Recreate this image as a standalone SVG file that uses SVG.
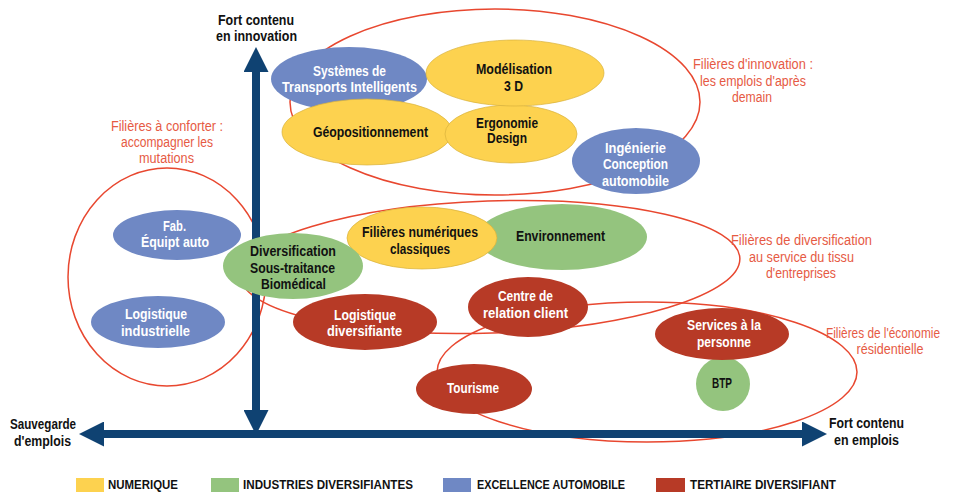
<svg xmlns="http://www.w3.org/2000/svg" width="953" height="492" viewBox="0 0 953 492">
<style>
text{font-family:"Liberation Sans",Arial,sans-serif;font-size:14px;text-anchor:middle}
.b{font-weight:bold}
.w{fill:#ffffff;font-weight:bold}
.k{fill:#111111;font-weight:bold}
.lbl{fill:#e65a44}
.grp{fill:none;stroke:#e8472f;stroke-width:1.5}
.blue{fill:#6f88c4}
.yel{fill:#fdd24f;stroke:#d9b23c;stroke-width:0.7}
.grn{fill:#94c47e}
.red{fill:#b73a26}
.axis{stroke:#0f4272;stroke-width:8;fill:none}
.leg{text-anchor:start;font-weight:bold;fill:#111;font-size:13px}
</style>
<defs>
<marker id="ah" viewBox="0 0 25 25" markerWidth="25" markerHeight="25" refX="0" refY="12.5" orient="auto-start-reverse" markerUnits="userSpaceOnUse">
<path d="M0,0 L25,12.5 L0,25 z" fill="#0f4272"/>
</marker>
</defs>
<rect width="953" height="492" fill="#ffffff"/>

<g id="groups">
<ellipse class="grp" cx="495" cy="102" rx="205" ry="93"/>
<ellipse class="grp" cx="167" cy="277" rx="99" ry="109"/>
<ellipse class="grp" cx="490" cy="267" rx="250" ry="66" transform="rotate(-2 490 267)"/>
<ellipse class="grp" cx="647" cy="372" rx="210" ry="70"/>
<text class="lbl" x="167" y="131" textLength="112" lengthAdjust="spacingAndGlyphs">Filières à conforter :</text>
<text class="lbl" x="167" y="147" textLength="92" lengthAdjust="spacingAndGlyphs">accompagner les</text>
<text class="lbl" x="166.5" y="163" textLength="55" lengthAdjust="spacingAndGlyphs">mutations</text>
<text class="lbl" x="753" y="69" textLength="120" lengthAdjust="spacingAndGlyphs">Filières d'innovation :</text>
<text class="lbl" x="753" y="86" textLength="106" lengthAdjust="spacingAndGlyphs">les emplois d'après</text>
<text class="lbl" x="752" y="102" textLength="40" lengthAdjust="spacingAndGlyphs">demain</text>
<text class="lbl" x="801.5" y="245" textLength="141" lengthAdjust="spacingAndGlyphs">Filières de diversification</text>
<text class="lbl" x="801.5" y="262" textLength="105" lengthAdjust="spacingAndGlyphs">au service du tissu</text>
<text class="lbl" x="801" y="278" textLength="70" lengthAdjust="spacingAndGlyphs">d'entreprises</text>
<text class="lbl" x="883" y="338" font-size="13" textLength="114" lengthAdjust="spacingAndGlyphs">Filières de l'économie</text>
<text class="lbl" x="890" y="354" textLength="67" lengthAdjust="spacingAndGlyphs">résidentielle</text>
</g>

<g id="connectors">
<line class="axis" x1="256" y1="72" x2="256" y2="410" marker-start="url(#ah)" marker-end="url(#ah)"/>
<line class="axis" x1="104" y1="434" x2="802" y2="434" marker-start="url(#ah)" marker-end="url(#ah)"/>
</g>

<g id="axis-labels">
<text class="k" x="256" y="25" textLength="76" lengthAdjust="spacingAndGlyphs">Fort contenu</text>
<text class="k" x="256.5" y="41" textLength="81" lengthAdjust="spacingAndGlyphs">en innovation</text>
<text class="k" x="43" y="429" textLength="66" lengthAdjust="spacingAndGlyphs">Sauvegarde</text>
<text class="k" x="42.5" y="446" textLength="57" lengthAdjust="spacingAndGlyphs">d'emplois</text>
<text class="k" x="866.5" y="428" textLength="75" lengthAdjust="spacingAndGlyphs">Fort contenu</text>
<text class="k" x="866.5" y="445" textLength="65" lengthAdjust="spacingAndGlyphs">en emplois</text>
</g>

<g id="n-systemes">
<ellipse class="blue" cx="349" cy="79" rx="78" ry="32"/>
<text class="w" x="349.5" y="76" textLength="73" lengthAdjust="spacingAndGlyphs">Systèmes de</text>
<text class="w" x="349.5" y="92" textLength="135" lengthAdjust="spacingAndGlyphs">Transports Intelligents</text>
</g>
<g id="n-geo">
<ellipse class="yel" cx="367" cy="132" rx="85" ry="33"/>
<text class="k" x="370.5" y="137" textLength="115" lengthAdjust="spacingAndGlyphs">Géopositionnement</text>
</g>
<g id="n-ergonomie">
<ellipse class="yel" cx="511" cy="134" rx="66" ry="29"/>
<text class="k" x="507" y="128" textLength="62" lengthAdjust="spacingAndGlyphs">Ergonomie</text>
<text class="k" x="507" y="143" textLength="40" lengthAdjust="spacingAndGlyphs">Design</text>
</g>
<g id="n-modelisation">
<ellipse class="yel" cx="515" cy="73" rx="89" ry="33"/>
<text class="k" x="514" y="74" textLength="76" lengthAdjust="spacingAndGlyphs">Modélisation</text>
<text class="k" x="513.5" y="91" textLength="19" lengthAdjust="spacingAndGlyphs">3 D</text>
</g>
<g id="n-ingenierie">
<ellipse class="blue" cx="636" cy="161" rx="64" ry="33"/>
<text class="w" x="635.5" y="153" textLength="61" lengthAdjust="spacingAndGlyphs">Ingénierie</text>
<text class="w" x="635.5" y="169" textLength="65" lengthAdjust="spacingAndGlyphs">Conception</text>
<text class="w" x="635.5" y="186" textLength="67" lengthAdjust="spacingAndGlyphs">automobile</text>
</g>
<g id="n-fab">
<ellipse class="blue" cx="177" cy="235" rx="64" ry="25"/>
<text class="w" x="174.5" y="231" textLength="23" lengthAdjust="spacingAndGlyphs">Fab.</text>
<text class="w" x="175" y="247" textLength="68" lengthAdjust="spacingAndGlyphs">Équipt auto</text>
</g>
<g id="n-logind">
<ellipse class="blue" cx="158" cy="322" rx="67" ry="26"/>
<text class="w" x="156" y="319" textLength="62" lengthAdjust="spacingAndGlyphs">Logistique</text>
<text class="w" x="155.5" y="336" textLength="69" lengthAdjust="spacingAndGlyphs">industrielle</text>
</g>
<g id="n-environnement">
<ellipse class="grn" cx="562" cy="237" rx="85" ry="33"/>
<text class="k" x="560.5" y="241" textLength="89" lengthAdjust="spacingAndGlyphs">Environnement</text>
</g>
<g id="n-numeriques">
<ellipse class="yel" cx="422" cy="238" rx="75" ry="31"/>
<text class="k" x="420" y="237" textLength="116" lengthAdjust="spacingAndGlyphs">Filières numériques</text>
<text class="k" x="420" y="254" textLength="60" lengthAdjust="spacingAndGlyphs">classiques</text>
</g>
<g id="n-logdiv">
<ellipse class="red" cx="365" cy="322" rx="72" ry="28"/>
<text class="w" x="365" y="320" textLength="62" lengthAdjust="spacingAndGlyphs">Logistique</text>
<text class="w" x="364.5" y="336" textLength="75" lengthAdjust="spacingAndGlyphs">diversifiante</text>
</g>
<g id="n-diversification">
<ellipse class="grn" cx="293" cy="266" rx="70" ry="33"/>
<text class="k" x="293" y="256" textLength="86" lengthAdjust="spacingAndGlyphs">Diversification</text>
<text class="k" x="292.5" y="273" textLength="85" lengthAdjust="spacingAndGlyphs">Sous-traitance</text>
<text class="k" x="293.5" y="289" textLength="65" lengthAdjust="spacingAndGlyphs">Biomédical</text>
</g>
<g id="n-centre">
<ellipse class="red" cx="528" cy="307" rx="60" ry="30"/>
<text class="w" x="525.5" y="301" textLength="55" lengthAdjust="spacingAndGlyphs">Centre de</text>
<text class="w" x="525.5" y="318" textLength="85" lengthAdjust="spacingAndGlyphs">relation client</text>
</g>
<g id="n-tourisme">
<ellipse class="red" cx="474" cy="389" rx="58" ry="25"/>
<text class="w" x="473" y="393" textLength="52" lengthAdjust="spacingAndGlyphs">Tourisme</text>
</g>
<g id="n-btp">
<circle class="grn" cx="723" cy="384" r="27"/>
<text class="k" x="722" y="388" textLength="20" lengthAdjust="spacingAndGlyphs">BTP</text>
</g>
<g id="n-services">
<ellipse class="red" cx="722" cy="334" rx="67" ry="26"/>
<text class="w" x="724" y="330" textLength="74" lengthAdjust="spacingAndGlyphs">Services à la</text>
<text class="w" x="724" y="347" textLength="54" lengthAdjust="spacingAndGlyphs">personne</text>
</g>

<g id="legend">
<rect x="76" y="478" width="28" height="14" fill="#fdd24f"/>
<text class="leg" x="108" y="489" textLength="70" lengthAdjust="spacingAndGlyphs">NUMERIQUE</text>
<rect x="211" y="478" width="28" height="14" fill="#94c47e"/>
<text class="leg" x="243" y="489" textLength="170" lengthAdjust="spacingAndGlyphs">INDUSTRIES DIVERSIFIANTES</text>
<rect x="443" y="478" width="28" height="14" fill="#6f88c4"/>
<text class="leg" x="477" y="489" textLength="148" lengthAdjust="spacingAndGlyphs">EXCELLENCE AUTOMOBILE</text>
<rect x="656" y="478" width="29" height="14" fill="#b73a26"/>
<text class="leg" x="690" y="489" textLength="146" lengthAdjust="spacingAndGlyphs">TERTIAIRE DIVERSIFIANT</text>
</g>
</svg>
